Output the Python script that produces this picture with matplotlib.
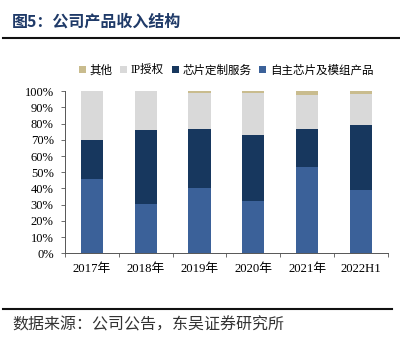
import numpy as np
import matplotlib
matplotlib.use('Agg')
import matplotlib.pyplot as plt
from matplotlib.lines import Line2D
from matplotlib.ticker import PercentFormatter

plt.rcParams['font.family'] = ['Liberation Serif', 'Noto Sans CJK SC']

years = ['2017年', '2018年', '2019年', '2020年', '2021年', '2022H1']
# 收入占比 (%)
own_chips = [45.9, 30.6, 40.5, 32.5, 53.5, 39.3]   # 自主芯片及模组产品
custom_svc = [23.9, 45.3, 36.0, 40.7, 23.0, 39.9]  # 芯片定制服务
ip_license = [30.2, 24.1, 22.5, 26.0, 21.2, 19.2]  # IP授权
others = [0.0, 0.0, 1.0, 0.8, 2.3, 1.6]            # 其他

series = [
    ('自主芯片及模组产品', own_chips, '#3B6199'),
    ('芯片定制服务', custom_svc, '#17375E'),
    ('IP授权', ip_license, '#D9D9D9'),
    ('其他', others, '#C9BC8E'),
]

fig = plt.figure(figsize=(4.0, 3.38), dpi=100)
ax = fig.add_axes([0.162, 0.2506, 0.808, 0.4794])

x = np.arange(len(years))
bottom = np.zeros(len(years))
handles = {}
for name, vals, col in series:
    v = np.array(vals) / 100
    b = ax.bar(x, v, 0.41, bottom=bottom, color=col, linewidth=0)
    handles[name] = b
    bottom += v

ax.set_ylim(0, 1)
ax.set_xlim(-0.5, len(years) - 0.5)
ax.set_yticks(np.arange(0, 1.01, 0.1))
ax.yaxis.set_major_formatter(PercentFormatter(1.0, decimals=0))
ax.set_xticks(x)
ax.set_xticklabels(years)
ax.set_xticks(np.arange(-0.5, len(years)), minor=True)
ax.tick_params(axis='x', which='major', length=0, labelsize=9.2, pad=7)
ax.tick_params(axis='x', which='minor', length=3, width=0.6, color='#555555')
ax.tick_params(axis='y', length=3, width=0.6, color='#555555', labelsize=9, pad=5)
for s in ['top', 'right']:
    ax.spines[s].set_visible(False)
for s in ['left', 'bottom']:
    ax.spines[s].set_color('#555555')
    ax.spines[s].set_linewidth(0.7)

order = ['其他', 'IP授权', '芯片定制服务', '自主芯片及模组产品']
fig.legend([handles[k] for k in order], order, loc='center', bbox_to_anchor=(0.565, 0.792),
           ncol=4, frameon=False, fontsize=8.3, handlelength=0.6, handleheight=0.6,
           handletextpad=0.3, columnspacing=0.7)

# 标题与来源
fig.text(0.03, 0.935, '图5：公司产品收入结构', fontsize=11.5, fontweight='bold',
         color='#1F3A68', va='center', family=['Noto Sans CJK SC'])
fig.add_artist(Line2D([0.008, 1.0], [0.889, 0.889], color='#111111', lw=1.5))
fig.add_artist(Line2D([0.008, 0.98], [0.086, 0.086], color='#111111', lw=1.5))
fig.text(0.03, 0.038, '数据来源：公司公告，东吴证券研究所', fontsize=11.5,
         color='#333333', va='center', family=['Noto Sans CJK SC'])

fig.savefig('out.png', dpi=100)
